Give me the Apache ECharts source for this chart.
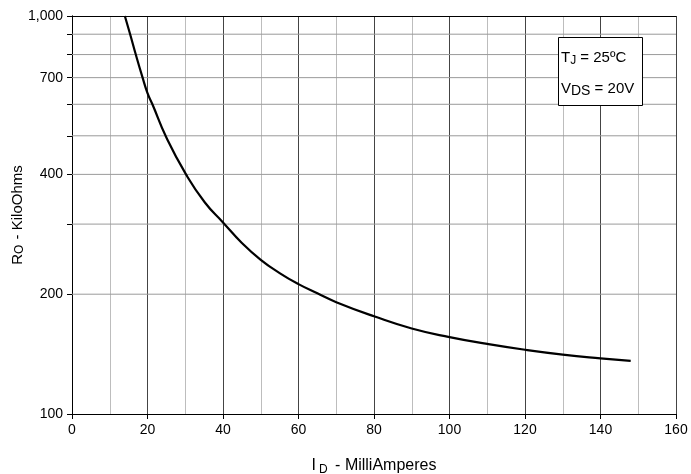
<!DOCTYPE html>
<html>
<head>
<meta charset="utf-8">
<script src="https://cdn.jsdelivr.net/npm/echarts@6/dist/echarts.min.js"></script>
<style>
  html, body { margin: 0; padding: 0; background: #fff; }
  #chart { width: 691px; height: 474px; }
</style>
</head>
<body>
<div id="chart"></div>
<script>
  // drain current (mA) vs output resistance (kOhm)
  const currentMA = [14.0, 15.4, 16.9, 18.7, 20, 21.3, 25, 30.2, 35.2, 40, 45, 50, 55, 60, 65, 70, 80, 90, 100, 110, 120, 130, 140, 148];
  const resistanceK = [1000, 900, 800, 700, 640, 600, 495, 400, 340, 303, 269, 244, 226, 212, 201, 191, 176, 164, 156, 150, 145, 141, 138, 136];

  const yTickValues = [100, 200, 300, 400, 500, 600, 700, 800, 900, 1000];
  const yLabelValues = [100, 200, 400, 700, 1000];
  const yGridValues = [200, 300, 400, 500, 600, 700, 800, 900];
  const xRange = [0, 160];
  const noteLines = ['T{sub|J} = 25ºC', 'V{sub|DS} = 20V'];

  const chart = echarts.init(document.getElementById('chart'));
  const font = 'Liberation Sans, Arial, sans-serif';

  // log axis split lines don't follow custom ticks, so draw them as flat series
  const gridSeries = yGridValues.map(v => ({
    type: 'line',
    silent: true,
    showSymbol: false,
    z: 1,
    lineStyle: { color: '#9a9a9a', width: 1 },
    data: xRange.map(x => [x, v])
  }));

  const option = {
    animation: false,
    backgroundColor: '#fff',
    textStyle: { fontFamily: font },
    grid: { left: 72, right: 15, top: 16, bottom: 60, containLabel: false, outerBoundsMode: 'none' },
    xAxis: [{
      type: 'value',
      min: 0, max: 160, interval: 20,
      name: 'I{sub|D} - MilliAmperes',
      nameLocation: 'middle',
      nameGap: 41,
      nameTextStyle: {
        fontFamily: font, fontSize: 16, color: '#000',
        rich: { sub: { fontFamily: font, fontSize: 12, color: '#000', padding: [9, 3, 0, 3] } }
      },
      axisLine: { show: true, lineStyle: { color: '#000', width: 1 } },
      axisTick: { show: true, length: 5, lineStyle: { color: '#000' } },
      axisLabel: { fontFamily: font, fontSize: 14, color: '#000', margin: 9 },
      splitLine: { show: true, lineStyle: { color: '#444', width: 1 } },
      minorTick: { show: false, splitNumber: 2 },
      minorSplitLine: { show: true, lineStyle: { color: '#bdbdbd', width: 1 } }
    }, {
      type: 'value', position: 'top', min: 0, max: 160,
      axisLine: { show: true, onZero: false, lineStyle: { color: '#000', width: 1 } },
      axisTick: { show: false }, axisLabel: { show: false }, splitLine: { show: false }
    }],
    yAxis: [{
      type: 'log',
      logBase: 10,
      min: 100, max: 1000,
      name: 'R{sub|O} - KiloOhms',
      nameLocation: 'middle',
      nameGap: 46,
      nameMoveOverlap: false,
      nameTextStyle: {
        fontFamily: font, fontSize: 15, color: '#000',
        rich: { sub: { fontFamily: font, fontSize: 12, color: '#000', padding: [4, 1, 0, 0] } }
      },
      axisLine: { show: true, lineStyle: { color: '#000', width: 1 } },
      axisTick: { show: true, length: 5, customValues: yTickValues, lineStyle: { color: '#000' } },
      axisLabel: {
        fontFamily: font, fontSize: 14, color: '#000', margin: 9,
        customValues: yLabelValues,
        formatter: v => Math.round(v).toLocaleString('en-US')
      },
      splitLine: { show: false }
    }, {
      type: 'log', logBase: 10, position: 'right', min: 100, max: 1000,
      axisLine: { show: true, lineStyle: { color: '#000', width: 1 } },
      axisTick: { show: false }, axisLabel: { show: false }, splitLine: { show: false }
    }],
    series: gridSeries.concat([{
      type: 'line',
      smooth: 0.5,
      showSymbol: false,
      lineStyle: { color: '#000', width: 2.2 },
      data: currentMA.map((x, i) => [x, resistanceK[i]]),
      z: 5
    }]),
    graphic: [{
      type: 'rect',
      left: 558, top: 37,
      z: 100,
      shape: { x: 0, y: 0, width: 84, height: 68 },
      style: { fill: '#fff', stroke: '#000', lineWidth: 1 }
    }, {
      type: 'text',
      left: 561, top: 50,
      z: 101,
      style: {
        text: noteLines[0], fontFamily: font, fontSize: 15, fill: '#000',
        rich: { sub: { fontFamily: font, fontSize: 12, fill: '#000', padding: [6, 0, 0, 0] } }
      }
    }, {
      type: 'text',
      left: 561, top: 81,
      z: 101,
      style: {
        text: noteLines[1], fontFamily: font, fontSize: 15, fill: '#000',
        rich: { sub: { fontFamily: font, fontSize: 14, fill: '#000', padding: [6, 0, 0, 0] } }
      }
    }]
  };

  chart.setOption(option);
</script>
</body>
</html>
